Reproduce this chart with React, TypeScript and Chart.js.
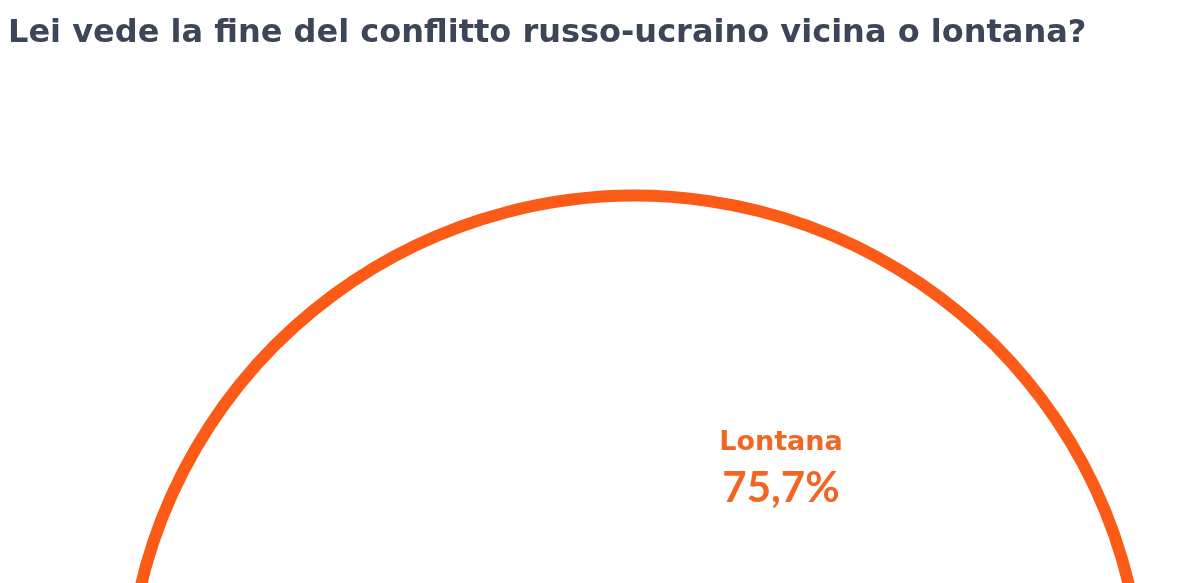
import { useEffect, useRef } from "react"
import { Chart, registerables } from "chart.js"

Chart.register(...registerables)

const categories = ["Lontana", "Vicina"]
const shares = [75.7, 24.3]
const shareLabels = ["75,7%", "24,3%"]

const ORANGE = "#fb5b16"
const LABEL_ORANGE = "#f26522"

// draws the name + percentage inside each slice
const sliceLabels = {
  id: "sliceLabels",
  afterDatasetsDraw(chart: Chart) {
    const ctx = chart.ctx
    const meta = chart.getDatasetMeta(0)
    meta.data.forEach((arc: any, i: number) => {
      const { x, y, startAngle, endAngle, outerRadius } = arc.getProps(
        ["x", "y", "startAngle", "endAngle", "outerRadius"],
        true
      )
      const mid = (startAngle + endAngle) / 2
      const dist = outerRadius * 0.55
      const cx = x + Math.cos(mid) * dist
      const cy = y + Math.sin(mid) * dist
      ctx.save()
      ctx.fillStyle = LABEL_ORANGE
      ctx.textAlign = "center"
      ctx.textBaseline = "alphabetic"
      ctx.font = "bold 27px 'DejaVu Sans'"
      ctx.fillText(categories[i], cx, cy - 15)
      ctx.font = "bold 42px Lato"
      ctx.fillText(shareLabels[i], cx, cy + 37)
      ctx.restore()
    })
  },
}

export default function App() {
  const chartRef = useRef<HTMLCanvasElement>(null)
  const chartInstance = useRef<Chart | null>(null)

  useEffect(() => {
    if (!chartRef.current) return
    const ctx = chartRef.current.getContext("2d")
    if (!ctx) return

    if (chartInstance.current) {
      chartInstance.current.destroy()
    }

    chartInstance.current = new Chart(ctx, {
      type: "pie",
      data: {
        labels: categories,
        datasets: [
          {
            data: shares,
            backgroundColor: ["#ffffff", ORANGE],
            borderColor: ORANGE,
            borderWidth: 12,
            radius: 508,
          } as any,
        ],
      },
      options: {
        responsive: true,
        maintainAspectRatio: false,
        animation: false,
        rotation: 255.24,
        plugins: {
          legend: { display: false },
          tooltip: { enabled: false },
          title: {
            display: true,
            text: "Lei vede la fine del conflitto russo-ucraino vicina o lontana?",
            align: "start",
            color: "#3c4658",
            font: { family: "'DejaVu Sans'", size: 32, weight: "bold" },
            padding: { top: 6, bottom: 8 },
          },
        },
      },
      plugins: [sliceLabels],
    })

    return () => {
      if (chartInstance.current) {
        chartInstance.current.destroy()
        chartInstance.current = null
      }
    }
  }, [])

  return (
    <div style={{ width: 1184, height: 575, overflow: "hidden", background: "#fff" }}>
      <div style={{ position: "relative", width: 1254, height: 1339 }}>
        <canvas ref={chartRef} />
      </div>
    </div>
  )
}
